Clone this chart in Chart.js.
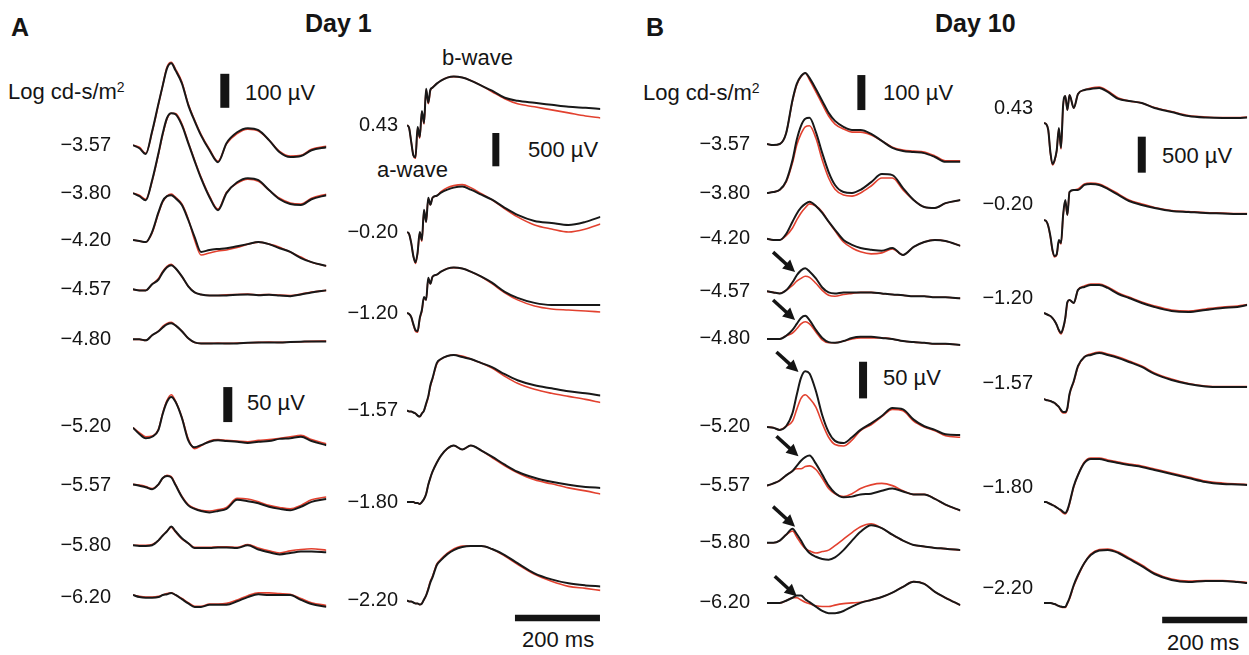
<!DOCTYPE html>
<html>
<head>
<meta charset="utf-8">
<title>ERG Day 1 / Day 10</title>
<script src="https://cdn.jsdelivr.net/npm/chart.js@4.4.0/dist/chart.umd.min.js"></script>
<style>
body { margin:0; background:#fff; width:1249px; height:655px; overflow:hidden; position:relative;
       font-family:"Liberation Sans", Arial, sans-serif; color:#151515; }
.box { position:absolute; }
.txt { position:absolute; white-space:nowrap; font-size:22px; line-height:1; transform:translateY(-50%); }
.big { font-weight:bold; font-size:25px; }
sup { font-size:14px; vertical-align:7px; line-height:0; }
</style>
</head>
<body>

<div class="txt big" style="left:11px;top:27px">A</div>
<div class="txt big" style="left:305px;top:23px">Day 1</div>
<div class="txt big" style="left:646px;top:27px">B</div>
<div class="txt big" style="left:935px;top:23px">Day 10</div>

<div class="txt" style="left:8px;top:92px">Log cd-s/m<sup>2</sup></div>
<div class="txt" style="left:643px;top:93px">Log cd-s/m<sup>2</sup></div>
<div class="txt" style="left:245px;top:93px">100 µV</div>
<div class="txt" style="left:883px;top:93px">100 µV</div>
<div class="txt" style="left:247px;top:403px">50 µV</div>
<div class="txt" style="left:883px;top:378px">50 µV</div>
<div class="txt" style="left:528px;top:150px">500 µV</div>
<div class="txt" style="left:1162px;top:156px">500 µV</div>
<div class="txt" style="left:442px;top:58px">b-wave</div>
<div class="txt" style="left:377px;top:170px">a-wave</div>
<div class="txt" style="left:522px;top:640px">200 ms</div>
<div class="txt" style="left:1167px;top:643px">200 ms</div>

<script>
// time grids (ms after start of trace)
const timesLeft = [0,15,30,45,60,70,80,90,100,115,130,145,160,180,200,220,245,270,295,320,345,370,395,420,455];
const timesRightA = [0,5,10,15,20,25,30,35,40,45,50,55,60,70,80,95,110,130,150,175,200,230,260,300,340,380,420,455];
const timesRightB = [0,5,10,15,20,25,30,35,40,45,50,55,60,70,80,95,110,130,150,175,200,230,260,300,340,380,420,455,478];

// flash intensities, log cd-s/m2
const lblScotTop = ['−3.57','−3.80','−4.20','−4.57','−4.80'];
const lblScotLow = ['−5.20','−5.57','−5.80','−6.20'];
const lblPhot = ['0.43','−0.20','−1.20','−1.57','−1.80','−2.20'];

// ---- Day 1, dim flashes (µV), black = k, red = r
const a1k = [0,-9,-26,41,123,176,226,241,220,182,118,71,29,-15,-50,6,38,50,44,15,-21,-35,-32,-15,-6];
const a1r = [0,-6,-24,38,120,176,230,244,224,186,121,74,32,-12,-47,4,34,47,42,15,-18,-32,-30,-12,-3];
const a2k = [0,-9,-21,38,118,176,221,235,232,200,147,94,44,-12,-50,0,32,44,38,9,-18,-32,-35,-18,-6];
const a2r = [0,-6,-18,35,115,172,218,235,234,204,150,97,47,-9,-47,3,29,41,35,9,-15,-29,-32,-15,-3];
const a3k = [0,-3,-6,24,82,115,129,132,123,103,59,9,-35,-29,-26,-24,-18,-12,-6,-12,-24,-35,-53,-65,-76];
const a3r = [0,-3,-6,21,79,112,129,135,126,106,62,0,-44,-38,-32,-29,-22,-12,-6,-12,-21,-35,-50,-65,-76];
const a4k = [0,-3,-3,15,29,50,65,71,62,38,9,-9,-15,-18,-18,-18,-16,-15,-17,-16,-18,-20,-15,-9,-3];
const a4r = [0,-3,-3,15,32,53,68,74,62,38,9,-9,-15,-18,-18,-16,-15,-14,-16,-15,-17,-18,-14,-8,-3];
const a5k = [0,0,-3,12,24,35,44,47,41,24,3,-9,-12,-12,-12,-12,-12,-10,-9,-9,-9,-8,-7,-6,-6];
const a5r = [0,0,-3,12,24,38,47,50,41,24,3,-9,-12,-12,-11,-12,-11,-10,-9,-8,-9,-8,-7,-6,-5];
const a6k = [-1,-10,-16,-14,-4,19,36,43,36,13,-19,-29,-26,-21,-19,-20,-21,-23,-21,-20,-17,-16,-14,-20,-26];
const a6r = [-1,-8,-14,-13,-3,20,38,46,37,14,-17,-31,-27,-20,-18,-19,-20,-21,-19,-18,-16,-14,-12,-18,-24];
const a7k = [1,-1,-3,-6,1,10,13,11,0,-17,-29,-34,-37,-39,-37,-34,-21,-23,-26,-31,-34,-36,-31,-24,-20];
const a7r = [1,0,-2,-5,1,10,14,12,1,-16,-28,-33,-36,-37,-35,-32,-19,-20,-24,-29,-32,-34,-29,-21,-17];
const a8k = [0,-1,-1,0,7,14,20,27,20,10,3,-4,-4,-4,-3,-3,-4,0,-6,-10,-13,-11,-9,-9,-10];
const a8r = [0,0,0,1,7,14,20,26,19,9,3,-3,-3,-3,-2,-2,-3,1,-4,-8,-11,-8,-6,-5,-7];
const a9k = [3,0,-1,-1,0,3,4,6,3,-3,-9,-14,-14,-11,-11,-11,-6,0,4,3,3,3,-4,-10,-14];
const a9r = [3,1,0,0,1,3,5,6,3,-2,-8,-13,-13,-10,-10,-9,-4,2,6,6,5,4,-2,-8,-12];

// ---- Day 1, bright flashes (µV)
const b1k = [0,-45,-258,-455,-485,-30,-182,212,30,545,333,530,561,621,667,712,727,712,667,591,515,409,364,333,303,273,258,242];
const b1r = [0,-45,-258,-455,-500,-45,-197,197,15,530,318,515,561,621,667,712,727,712,667,591,500,394,318,273,227,182,136,106];
const b2k = [0,-30,-167,-364,-455,-303,0,-121,333,152,515,409,515,545,591,636,667,682,636,561,485,364,258,167,136,106,152,227];
const b2r = [0,-30,-167,-364,-470,-318,-15,-136,318,152,500,409,515,545,606,667,697,712,667,576,485,348,227,106,45,0,45,121];
const b3k = [0,-15,-61,-167,-258,-273,-76,45,242,197,530,439,545,576,621,667,682,667,621,545,455,318,227,152,121,121,121,121];
const b3r = [0,-15,-61,-182,-273,-288,-91,30,227,197,515,439,545,576,621,667,682,667,621,545,440,303,197,106,61,45,30,15];
const b4k = [0,-15,-15,-30,-45,-76,-91,-45,0,106,212,379,485,712,773,818,833,803,773,712,652,545,455,379,333,288,258,227];
const b4r = [0,-15,-15,-30,-45,-76,-91,-45,0,91,197,364,470,697,773,818,833,818,773,712,636,515,409,318,258,212,167,121];
const b5k = [0,0,0,0,-15,-15,-30,0,45,121,258,364,455,591,697,803,848,788,848,773,682,561,455,364,303,258,227,212];
const b5r = [0,0,0,0,-15,-15,-30,0,45,121,258,364,455,591,697,803,848,788,848,773,667,545,440,333,273,212,167,121];
const b6k = [0,-15,-15,-30,-45,-45,-61,-45,15,76,167,273,348,530,606,697,758,803,818,818,773,682,561,409,318,258,227,212];
const b6r = [0,-15,-15,-30,-45,-45,-61,-45,15,76,182,288,364,545,621,712,773,818,818,818,773,667,545,394,288,212,182,152];

// ---- Day 10, dim flashes (µV)
const c1k = [0,-3,0,31,126,172,194,203,189,157,123,89,66,49,40,40,29,9,-11,-20,-23,-26,-37,-51,-51];
const c1r = [0,-3,0,31,123,169,192,203,183,149,114,80,57,43,34,34,26,9,-9,-17,-20,-23,-34,-48,-48];
const c2k = [0,3,9,34,94,152,192,212,215,174,114,60,23,3,0,9,31,54,51,14,-20,-40,-43,-29,-20];
const c2r = [0,3,9,31,86,137,169,189,192,157,94,43,11,-6,-9,0,20,43,43,9,-20,-40,-43,-29,-20];
const c3k = [0,-3,-3,14,49,72,89,100,106,94,74,49,26,-3,-17,-26,-31,-34,-26,-46,-23,-9,-3,-6,-20];
const c3r = [0,-3,-3,9,31,54,74,89,100,94,77,49,23,-9,-26,-37,-43,-40,-29,-46,-23,-9,-3,-6,-20];
const c4k = [0,-3,-6,3,26,46,60,66,57,37,11,-3,-6,-3,-3,-3,-3,-6,-9,-11,-14,-14,-17,-17,-20];
const c4r = [0,-3,-6,3,17,29,37,43,40,23,3,-11,-14,-9,-6,-3,-3,-6,-9,-11,-14,-14,-17,-17,-20];
const c5k = [0,0,0,9,26,43,60,66,54,26,3,-9,-11,-6,3,6,6,3,0,-6,-9,-11,-14,-14,-17];
const c5r = [0,0,0,9,17,29,43,49,43,20,-3,-11,-11,-6,0,3,3,3,0,-6,-9,-11,-14,-14,-17];
const c6k = [0,-1,-4,1,19,44,67,76,73,49,16,-7,-19,-22,-14,-4,5,15,26,24,10,1,-4,-10,-11];
const c6r = [0,-1,-4,1,8,24,39,44,39,27,5,-14,-24,-26,-18,-5,3,14,24,22,8,0,-5,-12,-14];
const c7k = [0,3,7,14,20,27,34,39,41,30,15,0,-10,-16,-15,-12,-11,-7,-4,-8,-12,-12,-18,-26,-34];
const c7r = [0,3,7,14,20,23,23,26,27,22,10,-4,-11,-15,-11,-4,1,3,0,-7,-12,-12,-18,-26,-34];
const c8k = [0,0,3,11,19,12,3,-7,-14,-19,-22,-23,-20,-10,3,15,24,20,11,3,-3,-5,-7,-8,-10];
const c8r = [0,0,3,11,16,8,-1,-8,-11,-14,-12,-10,-4,5,14,22,26,20,11,3,-3,-5,-7,-8,-10];
const c9k = [0,0,0,3,7,10,10,5,1,-5,-11,-14,-14,-11,-5,0,4,8,14,22,29,26,15,7,-3];
const c9r = [0,0,0,3,7,7,4,1,-1,-4,-5,-5,-3,-1,0,1,4,8,14,22,29,26,15,7,-3];

// ---- Day 10, bright flashes (µV)
const d1k = [0,-14,-97,-403,-570,-514,-375,-70,-348,250,375,181,389,209,403,459,473,487,431,334,306,278,209,153,97,76,70,70,76];
const d1r = [0,-14,-97,-417,-584,-528,-389,-83,-361,236,375,181,389,209,403,459,487,501,445,348,306,278,215,160,104,83,76,76,83];
const d2k = [0,-14,-83,-222,-417,-500,-473,-278,-320,70,278,70,389,417,417,487,500,487,431,348,264,209,167,125,111,97,90,83,83];
const d2r = [0,-14,-83,-236,-431,-514,-487,-292,-334,56,264,70,389,417,431,501,514,501,445,362,278,222,174,132,118,104,97,90,90];
const d3k = [0,-14,-28,-42,-70,-111,-167,-236,-278,-209,-70,153,181,139,320,361,389,389,348,264,209,139,83,28,14,42,70,83,111];
const d3r = [0,-14,-28,-42,-70,-111,-167,-250,-292,-222,-83,139,181,139,320,375,403,403,361,278,222,153,97,42,28,56,83,97,118];
const d4k = [0,-14,-21,-28,-42,-56,-83,-111,-153,-181,-181,-125,70,250,459,584,612,639,612,570,514,445,348,264,209,174,167,167,167];
const d4r = [0,-14,-21,-28,-42,-56,-83,-111,-167,-195,-195,-139,56,236,445,584,626,653,626,584,528,459,362,278,215,181,174,174,174];
const d5k = [0,0,-14,-28,-42,-56,-76,-97,-111,-139,-153,-111,-14,222,375,542,598,598,570,542,514,487,445,389,334,278,250,243,236];
const d5r = [0,0,-14,-28,-42,-56,-76,-97,-125,-153,-167,-125,-28,208,375,556,612,612,584,556,528,501,459,403,348,292,264,250,243];
const d6k = [0,0,0,0,-7,-14,-28,-42,-49,-56,-56,0,70,250,389,556,667,730,737,695,612,514,403,320,292,306,306,292,278];
const d6r = [0,0,0,0,-7,-14,-28,-42,-56,-63,-63,-7,56,236,375,556,681,744,751,709,626,528,417,334,306,313,313,299,285];

// vertical offset of each trace (µV), one per tick label
const offA1 = [0,-141,-279,-424,-571];
const offA2 = [0,-83,-169,-243];
const offA3 = [0,-1607,-2823,-4287,-5661,-7140];
const offB1 = [0,-140,-271,-421,-557];
const offB2 = [0,-80,-158,-240];
const offB3 = [0,-1347,-2639,-3833,-5264,-6667];

const BLACK = '#181818', RED = '#e2412f';
const AXIS_W = 80, PADV = 40; // PADV must exceed tick padding + half label height

function panel(p) {
  const div = document.createElement('div');
  div.className = 'box';
  div.style.left = (p.x - AXIS_W) + 'px';
  div.style.top = (p.y - PADV) + 'px';
  div.style.width = (p.w + AXIS_W + 2) + 'px';
  div.style.height = (p.h + 2 * PADV) + 'px';
  const cv = document.createElement('canvas');
  div.appendChild(cv);
  document.body.appendChild(div);

  const yMin = p.yMax - p.h / p.k;
  const datasets = [];
  p.black.forEach((s, i) => datasets.push({
    data: p.times.map((t, j) => ({ x: t, y: s[j] + p.offs[i] })),
    borderColor: BLACK, borderWidth: 2, order: 1
  }));
  p.red.forEach((s, i) => datasets.push({
    data: p.times.map((t, j) => ({ x: t, y: s[j] + p.offs[i] })),
    borderColor: RED, borderWidth: 1.6, order: 2
  }));

  const marks = {
    id: 'marks',
    afterDatasetsDraw(chart) {
      const { ctx, scales: { x, y } } = chart;
      ctx.save();
      ctx.strokeStyle = '#141414';
      ctx.fillStyle = '#141414';
      ctx.lineCap = 'butt';
      (p.bars || []).forEach(b => {
        ctx.lineWidth = b.w;
        ctx.beginPath();
        ctx.moveTo(x.getPixelForValue(b.t1), y.getPixelForValue(b.v1));
        ctx.lineTo(x.getPixelForValue(b.t2), y.getPixelForValue(b.v2));
        ctx.stroke();
      });
      (p.arrows || []).forEach(a => {
        const tx = x.getPixelForValue(a.t), ty = y.getPixelForValue(a.v + p.offs[a.trace]);
        const ang = Math.atan2(20, 22);
        ctx.lineWidth = 3.5;
        ctx.beginPath();
        ctx.moveTo(tx - 22, ty - 20);
        ctx.lineTo(tx - 8 * Math.cos(ang), ty - 8 * Math.sin(ang));
        ctx.stroke();
        ctx.beginPath();
        ctx.moveTo(tx, ty);
        ctx.lineTo(tx - 12 * Math.cos(ang) + 6 * Math.sin(ang), ty - 12 * Math.sin(ang) - 6 * Math.cos(ang));
        ctx.lineTo(tx - 12 * Math.cos(ang) - 6 * Math.sin(ang), ty - 12 * Math.sin(ang) + 6 * Math.cos(ang));
        ctx.closePath();
        ctx.fill();
      });
      ctx.restore();
    }
  };

  return new Chart(cv, {
    type: 'line',
    data: { datasets },
    options: {
      responsive: true,
      maintainAspectRatio: false,
      animation: false,
      layout: { padding: { top: PADV, bottom: PADV, left: 0, right: 2 } },
      plugins: { legend: { display: false }, tooltip: { enabled: false } },
      elements: { point: { radius: 0 }, line: { cubicInterpolationMode: 'monotone' } },
      scales: {
        x: { type: 'linear', display: false, min: 0, max: p.tMax },
        y: {
          min: yMin, max: p.yMax,
          grid: { display: false, drawTicks: false },
          border: { display: false },
          afterBuildTicks: s => { s.ticks = p.offs.map(v => ({ value: v })); },
          afterFit: s => { s.width = AXIS_W; },
          ticks: {
            autoSkip: false, padding: p.pad, labelOffset: p.lblOff || 0,
            color: '#151515', font: { family: '"Liberation Sans", Arial, sans-serif', size: 20 },
            callback: (v, i) => p.labels[i]
          }
        }
      }
    },
    plugins: [marks]
  });
}

// Day 1
panel({ x: 133, y: 50, w: 193.4, h: 310, k: 0.34, yMax: 280, tMax: 455, pad: 22,
  times: timesLeft, offs: offA1, labels: lblScotTop,
  black: [a1k, a2k, a3k, a4k, a5k], red: [a1r, a2r, a3r, a4r, a5r],
  bars: [{ t1: 216, t2: 216, v1: 110, v2: 210, w: 9 }] });
panel({ x: 133, y: 370, w: 193.4, h: 255, k: 0.70, yMax: 81.4, tMax: 455, pad: 22,
  times: timesLeft, offs: offA2, labels: lblScotLow,
  black: [a6k, a7k, a8k, a9k], red: [a6r, a7r, a8r, a9r],
  bars: [{ t1: 223, t2: 223, v1: 7, v2: 57, w: 9 }] });
panel({ x: 407, y: 60, w: 193.4, h: 565, k: 0.0666, yMax: 976, tMax: 455, pad: 9,
  times: timesRightA, offs: offA3, labels: lblPhot,
  black: [b1k, b2k, b3k, b4k, b5k, b6k], red: [b1r, b2r, b3r, b4r, b5r, b6r],
  bars: [{ t1: 209, t2: 209, v1: -620, v2: -120, w: 7 },
         { t1: 254, t2: 454, v1: -7402, v2: -7402, w: 6.5 }] });

// Day 10
panel({ x: 767, y: 50, w: 193.4, h: 310, k: 0.35, yMax: 268.6, tMax: 455, pad: 17,
  times: timesLeft, offs: offB1, labels: lblScotTop,
  black: [c1k, c2k, c3k, c4k, c5k], red: [c1r, c2r, c3r, c4r, c5r],
  bars: [{ t1: 222, t2: 222, v1: 97, v2: 197, w: 8 }],
  arrows: [{ trace: 3, t: 66, v: 55 }, { trace: 4, t: 66, v: 54 }] });
panel({ x: 767, y: 355, w: 193.4, h: 270, k: 0.733, yMax: 98.2, tMax: 455, pad: 17,
  times: timesLeft, offs: offB2, labels: lblScotLow,
  black: [c6k, c7k, c8k, c9k], red: [c6r, c7r, c8r, c9r],
  bars: [{ t1: 226, t2: 226, v1: 39, v2: 89, w: 8 }],
  arrows: [{ trace: 0, t: 74, v: 75 }, { trace: 1, t: 74, v: 40 },
           { trace: 2, t: 66, v: 22 }, { trace: 3, t: 70, v: 9 }] });
panel({ x: 1044, y: 60, w: 203.2, h: 570, k: 0.072, yMax: 875, tMax: 478, pad: 11, lblOff: -15,
  times: timesRightB, offs: offB3, labels: lblPhot,
  black: [d1k, d2k, d3k, d4k, d5k, d6k], red: [d1r, d2r, d3r, d4r, d5r, d6r],
  bars: [{ t1: 230, t2: 230, v1: -690, v2: -190, w: 8 },
         { t1: 278, t2: 478, v1: -6903, v2: -6903, w: 6.5 }] });
</script>
</body>
</html>
